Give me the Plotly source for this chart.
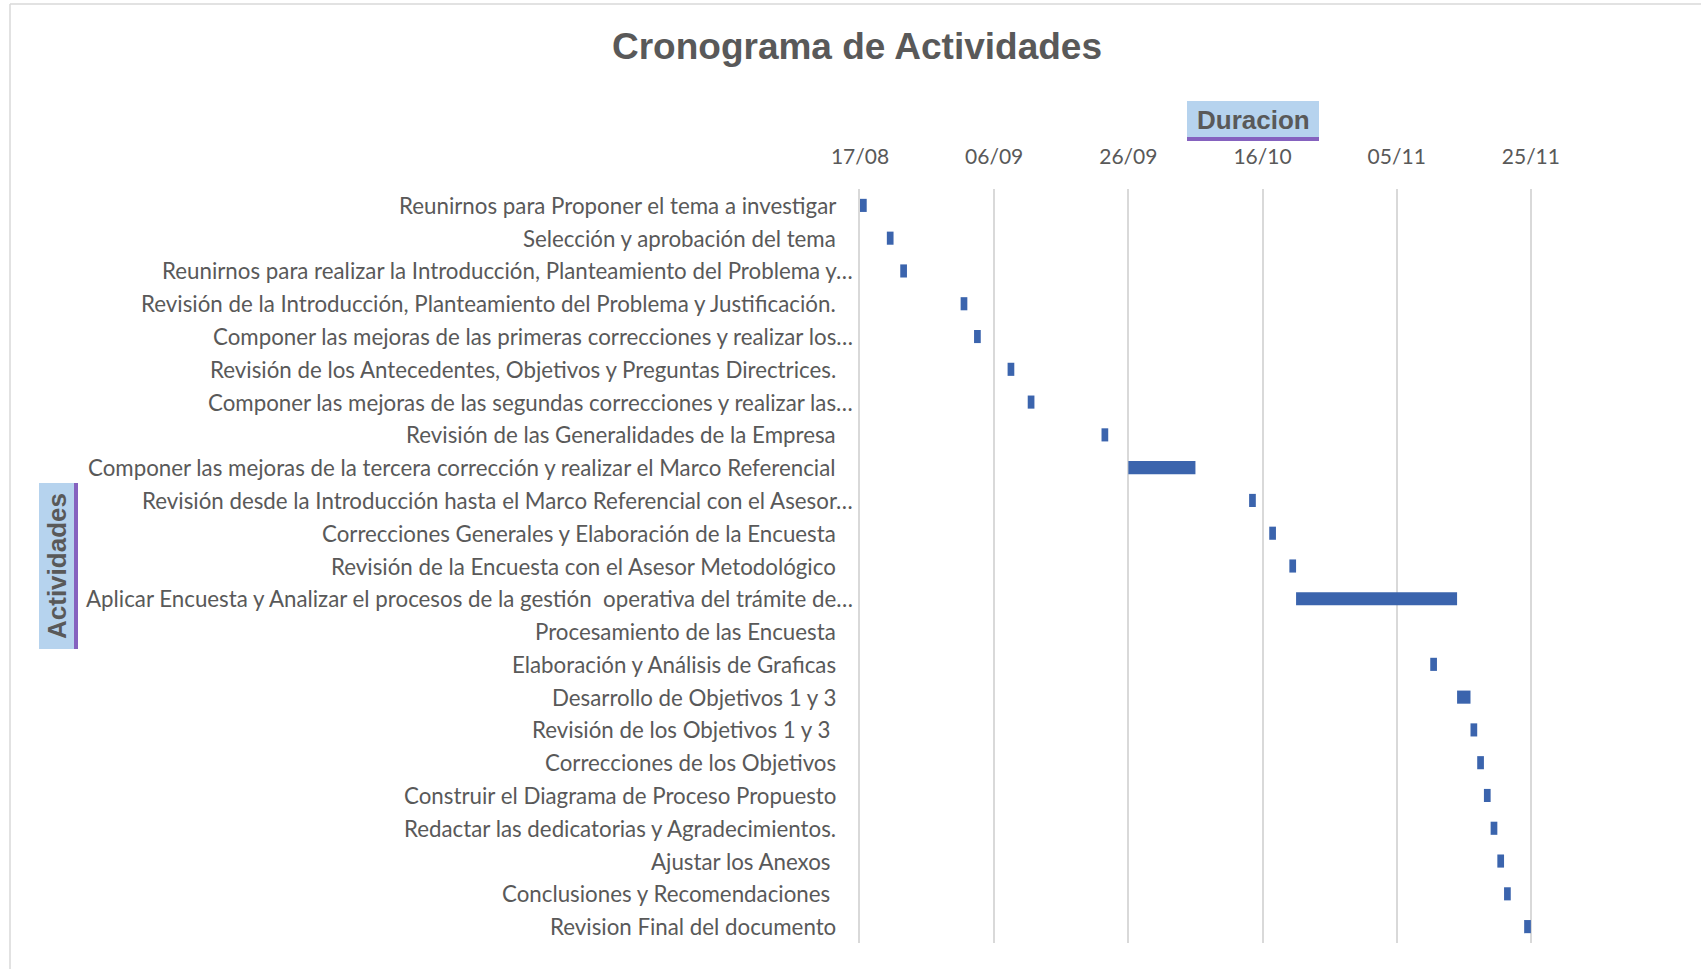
import plotly.graph_objects as go

activities = [
    "Reunirnos para Proponer el tema a investigar",
    "Selección y aprobación del tema",
    "Reunirnos para realizar la Introducción, Planteamiento del Problema y…",
    "Revisión de la Introducción, Planteamiento del Problema y Justificación.",
    "Componer las mejoras de las primeras correcciones y realizar los…",
    "Revisión de los Antecedentes, Objetivos y Preguntas Directrices.",
    "Componer las mejoras de las segundas correcciones y realizar las…",
    "Revisión de las Generalidades de la Empresa",
    "Componer las mejoras de la tercera corrección y realizar el Marco Referencial",
    "Revisión desde la Introducción hasta el Marco Referencial con el Asesor…",
    "Correcciones Generales y Elaboración de la Encuesta",
    "Revisión de la Encuesta con el Asesor Metodológico",
    "Aplicar Encuesta y Analizar el procesos de la gestión  operativa del trámite de…",
    "Procesamiento de las Encuesta",
    "Elaboración y Análisis de Graficas",
    "Desarrollo de Objetivos 1 y 3",
    "Revisión de los Objetivos 1 y 3\u00a0",
    "Correcciones de los Objetivos",
    "Construir el Diagrama de Proceso Propuesto",
    "Redactar las dedicatorias y Agradecimientos.",
    "Ajustar los Anexos\u00a0",
    "Conclusiones y Recomendaciones\u00a0",
    "Revision Final del documento",
]

start_dates = [
    "2019-08-17", "2019-08-21", "2019-08-23", "2019-09-01", "2019-09-03",
    "2019-09-08", "2019-09-11", "2019-09-22", "2019-09-26", "2019-10-14",
    "2019-10-17", "2019-10-20", "2019-10-21", "2019-11-10", "2019-11-10",
    "2019-11-14", "2019-11-16", "2019-11-17", "2019-11-18", "2019-11-19",
    "2019-11-20", "2019-11-21", "2019-11-24",
]

durations_days = [1, 1, 1, 1, 1, 1, 1, 1, 10, 1, 1, 1, 24, 0, 1, 2, 1, 1, 1, 1, 1, 1, 1]

axis_start = "2019-08-17"
axis_end = "2019-11-25 04:00"
tick_step_days = 20

DAY_MS = 86400000

fig = go.Figure()
fig.add_trace(go.Bar(
    y=activities,
    x=[d * DAY_MS for d in durations_days],
    base=start_dates,
    orientation="h",
    marker=dict(color="#3B64AD", line=dict(width=0)),
    hoverinfo="skip",
))

# plot area in pixels
L, R, T, B = 860, 1532, 189, 943
W, H = R - L, B - T
def px(x):
    return (x - L) / W
def py(y):
    return (B - y) / H

shapes = [
    dict(type="line", xref="paper", yref="paper", x0=px(10), x1=px(10), y0=py(975), y1=py(4),
         line=dict(color="#D9D9D9", width=1.5)),
    dict(type="line", xref="paper", yref="paper", x0=px(10), x1=px(1710), y0=py(4), y1=py(4),
         line=dict(color="#D9D9D9", width=1.5)),
    dict(type="rect", xref="paper", yref="paper", x0=px(1187), x1=px(1319), y0=py(137), y1=py(101),
         fillcolor="#B6D3EE", line=dict(width=0), layer="below"),
    dict(type="rect", xref="paper", yref="paper", x0=px(1187), x1=px(1319), y0=py(141), y1=py(137),
         fillcolor="#8562BF", line=dict(width=0), layer="below"),
    dict(type="rect", xref="paper", yref="paper", x0=px(39), x1=px(74), y0=py(649), y1=py(483),
         fillcolor="#B6D3EE", line=dict(width=0), layer="below"),
    dict(type="rect", xref="paper", yref="paper", x0=px(74), x1=px(78), y0=py(649), y1=py(483),
         fillcolor="#8562BF", line=dict(width=0), layer="below"),
]

label_font = dict(family="Lato, Carlito, Calibri, sans-serif", size=22.3, color="#595959")

annotations = [
    dict(text="<b>Duracion</b>", xref="paper", yref="paper", x=px(1253), y=py(120),
         xanchor="center", yanchor="middle", showarrow=False,
         font=dict(family="Liberation Sans, Arial, sans-serif", size=26, color="#595959")),
    dict(text="<b>Actividades</b>", xref="paper", yref="paper", x=px(57), y=py(566),
         xanchor="center", yanchor="middle", showarrow=False, textangle=-90,
         font=dict(family="Liberation Sans, Arial, sans-serif", size=26, color="#595959")),
]

# category labels placed on the category axis (truncated labels sit closer to the axis, as in Excel)
for name in activities:
    annotations.append(dict(
        text=name, xref="paper", yref="y", x=0, y=name,
        xanchor="right", yanchor="middle", showarrow=False,
        xshift=-5 if name.endswith("…") else -22,
        font=label_font,
    ))

fig.update_layout(
    width=1701, height=969,
    margin=dict(l=L, r=1701 - R, t=T, b=969 - B),
    paper_bgcolor="white", plot_bgcolor="white",
    showlegend=False,
    bargap=0.6,
    title=dict(text="<b>Cronograma de Actividades</b>", x=857 / 1701, y=1 - 46 / 969,
               xanchor="center", yanchor="middle",
               font=dict(family="Liberation Sans, Arial, sans-serif", size=37, color="#595959")),
    shapes=shapes,
    annotations=annotations,
    xaxis=dict(
        type="date", side="top", range=[axis_start, axis_end],
        tick0=axis_start, dtick=tick_step_days * DAY_MS, tickformat="%d/%m",
        showgrid=True, gridcolor="#D9D9D9", gridwidth=1.5,
        zeroline=False, showline=False, ticks="",
        ticklabelstandoff=20,
        tickfont=dict(family="Lato, Carlito, Calibri, sans-serif", size=21, color="#595959"),
    ),
    yaxis=dict(
        type="category", autorange="reversed",
        showgrid=False, zeroline=False, showline=True, linecolor="#D9D9D9", linewidth=1.5,
        ticks="", showticklabels=False,
    ),
)

fig.write_html("out.html", config={"displayModeBar": False},
               post_script="document.body.style.margin='0';document.body.style.overflow='hidden';")
